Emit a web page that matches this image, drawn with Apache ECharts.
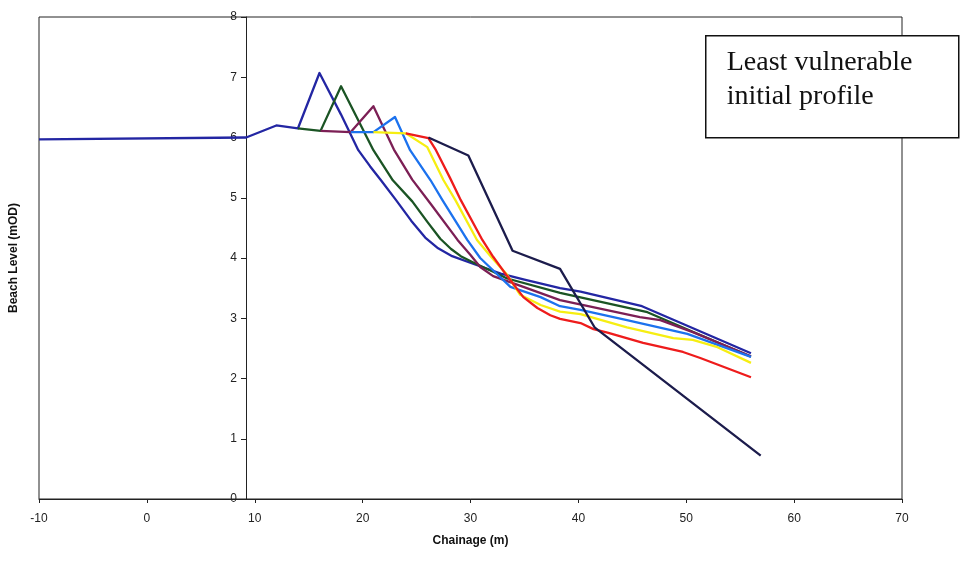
<!DOCTYPE html>
<html>
<head>
<meta charset="utf-8">
<script src="https://cdn.jsdelivr.net/npm/echarts@6/dist/echarts.min.js"></script>
<style>
  html, body { margin: 0; padding: 0; background: #fff; }
  #main { width: 960px; height: 563px; }
</style>
</head>
<body>
<div id="main"></div>
<script>
// chainage (m), beach level (mOD) pairs
const profileBlue = [[-10,5.97],[9.2,6.0],[12,6.2],[14,6.15],[16,7.07],[18,6.38],[19.6,5.79],[20.7,5.52],[21.7,5.29],[23.1,4.96],[24.5,4.62],[25.8,4.34],[27,4.16],[28.3,4.03],[30.3,3.9],[32.8,3.74],[35,3.64],[38.3,3.5],[40.2,3.44],[45.9,3.2],[56,2.42]]
const profileGreen = [[14,6.15],[16.1,6.11],[18,6.85],[21,5.79],[22.8,5.29],[24.6,4.94],[26,4.6],[27.2,4.32],[28.2,4.15],[29.1,4.03],[30.3,3.92],[32,3.78],[33.4,3.66],[38.3,3.42],[46.4,3.1],[56,2.36]]
const profileMaroon = [[16.1,6.11],[18.9,6.09],[21,6.52],[22.9,5.8],[24.6,5.3],[26.3,4.9],[28.8,4.3],[30,4.05],[30.9,3.85],[32.1,3.7],[34.9,3.52],[38.3,3.3],[45.7,3.02],[47.6,2.97],[50.6,2.77],[56,2.37]]
const profileLightBlue = [[18.9,6.09],[21,6.09],[23,6.34],[24.4,5.79],[26.3,5.29],[27.4,4.96],[29.7,4.3],[30.9,4.0],[31.6,3.88],[33.7,3.52],[36.5,3.35],[38.3,3.2],[40.2,3.14],[44.5,2.97],[50.1,2.74],[56,2.36]]
const profileYellow = [[21,6.09],[24,6.07],[26,5.84],[27.5,5.29],[28.6,4.96],[30.6,4.3],[31.9,4.02],[33.4,3.72],[34.6,3.39],[36.5,3.22],[38.3,3.11],[40.2,3.07],[44.5,2.85],[48.8,2.67],[50.6,2.64],[52.9,2.52],[56,2.26]]
const profileRed = [[24,6.07],[26.1,5.99],[26.8,5.79],[28.1,5.33],[29.1,4.96],[31.1,4.3],[32.1,4.02],[33.4,3.7],[34.9,3.35],[36.2,3.17],[37.4,3.05],[38.3,2.99],[40.2,2.92],[41.4,2.82],[42.7,2.76],[46,2.59],[49.7,2.44],[51.3,2.34],[56,2.02]]
const profileNavy = [[26.1,6.0],[29.8,5.7],[33.9,4.12],[38.3,3.82],[41.5,2.85],[56.9,0.72]]

const profiles = [
  {data: profileBlue, color: '#2326a3'},
  {data: profileGreen, color: '#1b5424'},
  {data: profileMaroon, color: '#7c1f55'},
  {data: profileLightBlue, color: '#1c72ee'},
  {data: profileYellow, color: '#f6ee12'},
  {data: profileRed, color: '#ee1c1c'},
  {data: profileNavy, color: '#1c1c4c'}
]

const xTicks = {min: -10, max: 70, step: 10}
const yTicks = {min: 0, max: 8, step: 1}

const chart = echarts.init(document.getElementById('main'))
const axisCol = '#222'
const tickFont = {color: '#222', fontSize: 12, fontFamily: 'Liberation Sans, Arial, sans-serif'}

chart.setOption({
  animation: false,
  backgroundColor: '#fff',
  grid: [
    {left: 38, right: 58, top: 17, bottom: 64, show: true, borderColor: axisCol, borderWidth: 1},
    // second grid only carries the y axis, which sits at chainage ~9.2
    {left: 246, right: 58, top: 17, bottom: 64}
  ],
  xAxis: [
    {
      gridIndex: 0, type: 'value', min: xTicks.min, max: xTicks.max, interval: xTicks.step,
      name: 'Chainage (m)', nameLocation: 'middle', nameGap: 36,
      nameTextStyle: {fontSize: 12, fontWeight: 'bold', color: '#111', fontFamily: 'Liberation Sans, Arial, sans-serif'},
      axisLine: {lineStyle: {color: axisCol, width: 1}},
      axisTick: {length: 4, lineStyle: {color: axisCol}},
      axisLabel: Object.assign({margin: 14}, tickFont),
      splitLine: {show: false}
    },
    {gridIndex: 1, type: 'value', min: 0, max: 1, show: false}
  ],
  yAxis: [
    {
      gridIndex: 0, type: 'value', min: yTicks.min, max: yTicks.max, interval: yTicks.step,
      name: 'Beach Level (mOD)', nameLocation: 'middle', nameGap: 19,
      nameTextStyle: {fontSize: 12, fontWeight: 'bold', color: '#111', fontFamily: 'Liberation Sans, Arial, sans-serif'},
      axisLine: {show: false}, axisTick: {show: false}, axisLabel: {show: false},
      splitLine: {show: false}
    },
    {
      gridIndex: 1, type: 'value', min: yTicks.min, max: yTicks.max, interval: yTicks.step,
      axisLine: {show: true, onZero: false, lineStyle: {color: axisCol, width: 1}},
      axisTick: {show: true, length: 5, lineStyle: {color: axisCol}},
      axisLabel: Object.assign({margin: 9}, tickFont),
      splitLine: {show: false}
    }
  ],
  series: profiles.map(p => ({
    type: 'line',
    xAxisIndex: 0,
    yAxisIndex: 0,
    data: p.data,
    showSymbol: false,
    lineStyle: {color: p.color, width: 2.3, join: 'round'},
    itemStyle: {color: p.color}
  })),
  graphic: [
    {
      type: 'group', left: 705, top: 35,
      children: [
        {type: 'rect', shape: {x: 0, y: 0, width: 253, height: 102}, style: {fill: '#fff', stroke: '#111', lineWidth: 1.5}},
        {type: 'text', x: 21, y: 10, style: {
          text: 'Least vulnerable\ninitial profile',
          font: '28px "Liberation Serif", "Times New Roman", serif',
          lineHeight: 34, fill: '#111'
        }}
      ]
    }
  ]
})
</script>
</body>
</html>
